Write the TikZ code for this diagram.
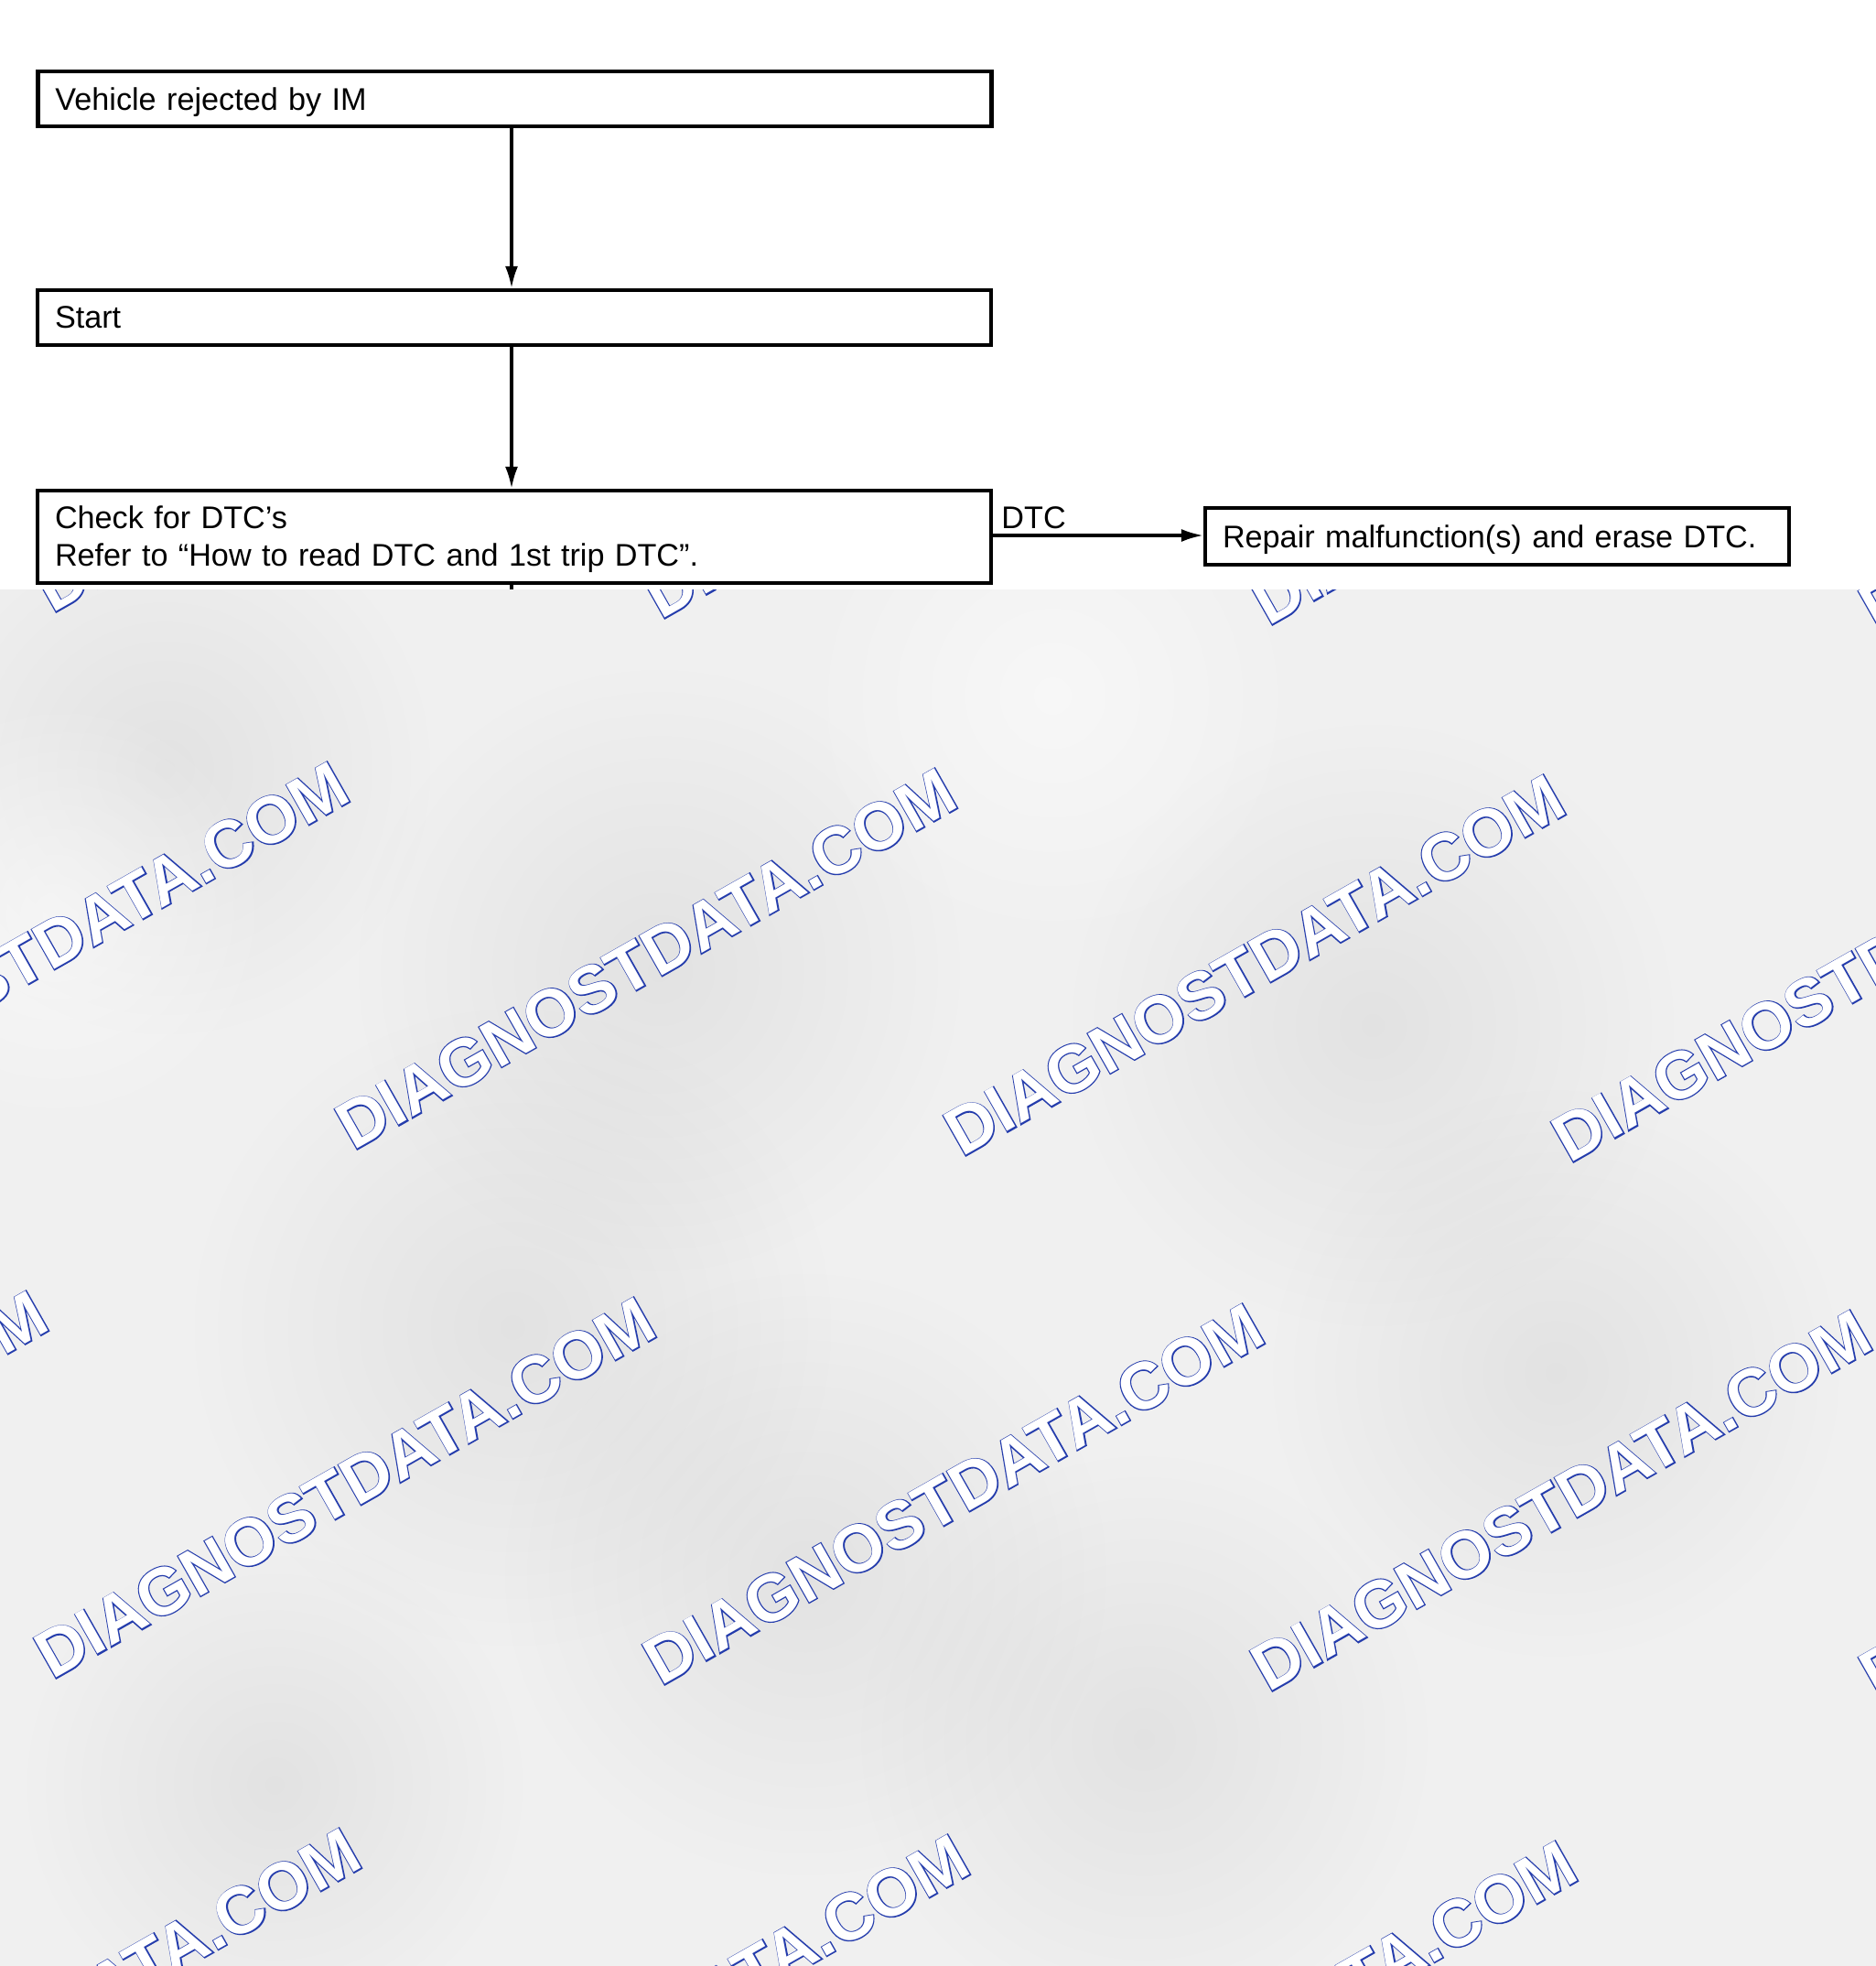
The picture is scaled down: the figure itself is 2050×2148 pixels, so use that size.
\documentclass[tikz,border=0pt]{standalone}
\usepackage{fontspec}
\setmainfont{Liberation Sans}
\newfontface\wmN{Liberation Sans Bold}
\newfontface\wmB{Liberation Sans Bold}[FakeBold=3.2]
\usetikzlibrary{arrows.meta,fadings}
\definecolor{wmblue}{RGB}{36,60,172}
\definecolor{bgg}{RGB}{240,240,240}
\tikzfading[name=blobfade, inner color=transparent!0, outer color=transparent!100]
\newcommand{\wmtext}{\rlap{\color{wmblue}\wmB DIAGNOSTDATA.COM}{\color{white}\wmN DIAGNOSTDATA.COM}}
\newcommand{\dn}[2]{\raisebox{-#1}[\height][\depth]{#2}}
\begin{document}
\begin{tikzpicture}[x=0.5pt,y=-0.5pt,
  box/.style={draw=black, line width=2.1pt, inner xsep=9.5pt, inner ysep=0pt, align=left,
    font=\fontsize{17.1}{20.5}\selectfont, anchor=center},
  conn/.style={draw=black, line width=1.6pt, -{Latex[length=12pt,width=7pt]}},
  lbl/.style={font=\fontsize{17.1}{20.5}\selectfont, inner sep=0pt, anchor=west},
  wm/.style={rotate=29.6, anchor=base west, inner sep=0pt,
    font=\fontsize{36.3}{36.3}\selectfont},
  blob/.style={fill=black, opacity=0.055, path fading=blobfade}]
\useasboundingbox (0,0) rectangle (2050,2148);
\fill[white] (0,0) rectangle (2050,2148);

% flowchart
\node[box, text width=502pt, minimum height=30pt] (veh) at (562.5,108) {\dn{2pt}{Vehicle rejected by IM}};
\node[box, text width=502pt, minimum height=30pt] (start) at (562,347) {Start};
\node[box, text width=502pt, minimum height=50.5pt] (check) at (562,586.5)
  {\dn{1.4pt}{Check for DTC’s}\\\dn{1.4pt}{Refer to “How to read DTC and 1st trip DTC”.}};
\node[box, text width=300pt, minimum height=31pt] (repair) at (1636,586) {\dn{2pt}{Repair malfunction(s) and erase DTC.}};
\node[lbl] (dtc) at (1094,566) {DTC};
\coordinate (stub) at (559,720);

\draw[conn] (veh.south -| 559,0) -- (start.north -| 559,0);
\draw[conn] (start.south -| 559,0) -- (check.north -| 559,0);
\draw[conn] (check.east |- 0,585) -- (repair.west |- 0,585);
\draw[line width=1.6pt] (check.south -| 559,0) -- (stub);

% grey watermark overlay
\begin{scope}
\clip (0,644) rectangle (2050,2148);
\fill[bgg] (0,644) rectangle (2050,2148);
\fill[blob] (180,840) circle (150pt);
\fill[blob] (720,1060) circle (170pt);
\fill[blob] (560,1450) circle (180pt);
\fill[blob] (880,1720) circle (170pt);
\fill[blob] (1500,1120) circle (170pt);
\fill[blob] (1700,1500) circle (160pt);
\fill[blob] (1250,1900) circle (160pt);
\fill[blob] (300,1950) circle (140pt);
\fill[white, opacity=0.5, path fading=blobfade] (60,1000) circle (120pt);
\fill[white, opacity=0.5, path fading=blobfade] (1150,760) circle (140pt);
% row A
\node[wm] (wa1) at (57,671) {\wmtext};
\node[wm] (wa2) at (722,678) {\wmtext};
\node[wm] (wa3) at (1386,685) {\wmtext};
\node[wm] (wa4) at (2051,692) {\wmtext};
% row B
\node[wm] (wb1) at (-278,1251) {\wmtext};
\node[wm] (wb2) at (386,1258) {\wmtext};
\node[wm] (wb3) at (1051,1265) {\wmtext};
\node[wm] (wb4) at (1715,1272) {\wmtext};
% row C
\node[wm] (wc0) at (-607,1829) {\wmtext};
\node[wm] (wc1) at (57,1836) {\wmtext};
\node[wm] (wc2) at (722,1843) {\wmtext};
\node[wm] (wc3) at (1386,1850) {\wmtext};
\node[wm] (wc4) at (2051,1857) {\wmtext};
% row D
\node[wm] (wd1) at (-265,2416) {\wmtext};
\node[wm] (wd2) at (400,2423) {\wmtext};
\node[wm] (wd3) at (1064,2430) {\wmtext};
\end{scope}
\end{tikzpicture}
\end{document}
